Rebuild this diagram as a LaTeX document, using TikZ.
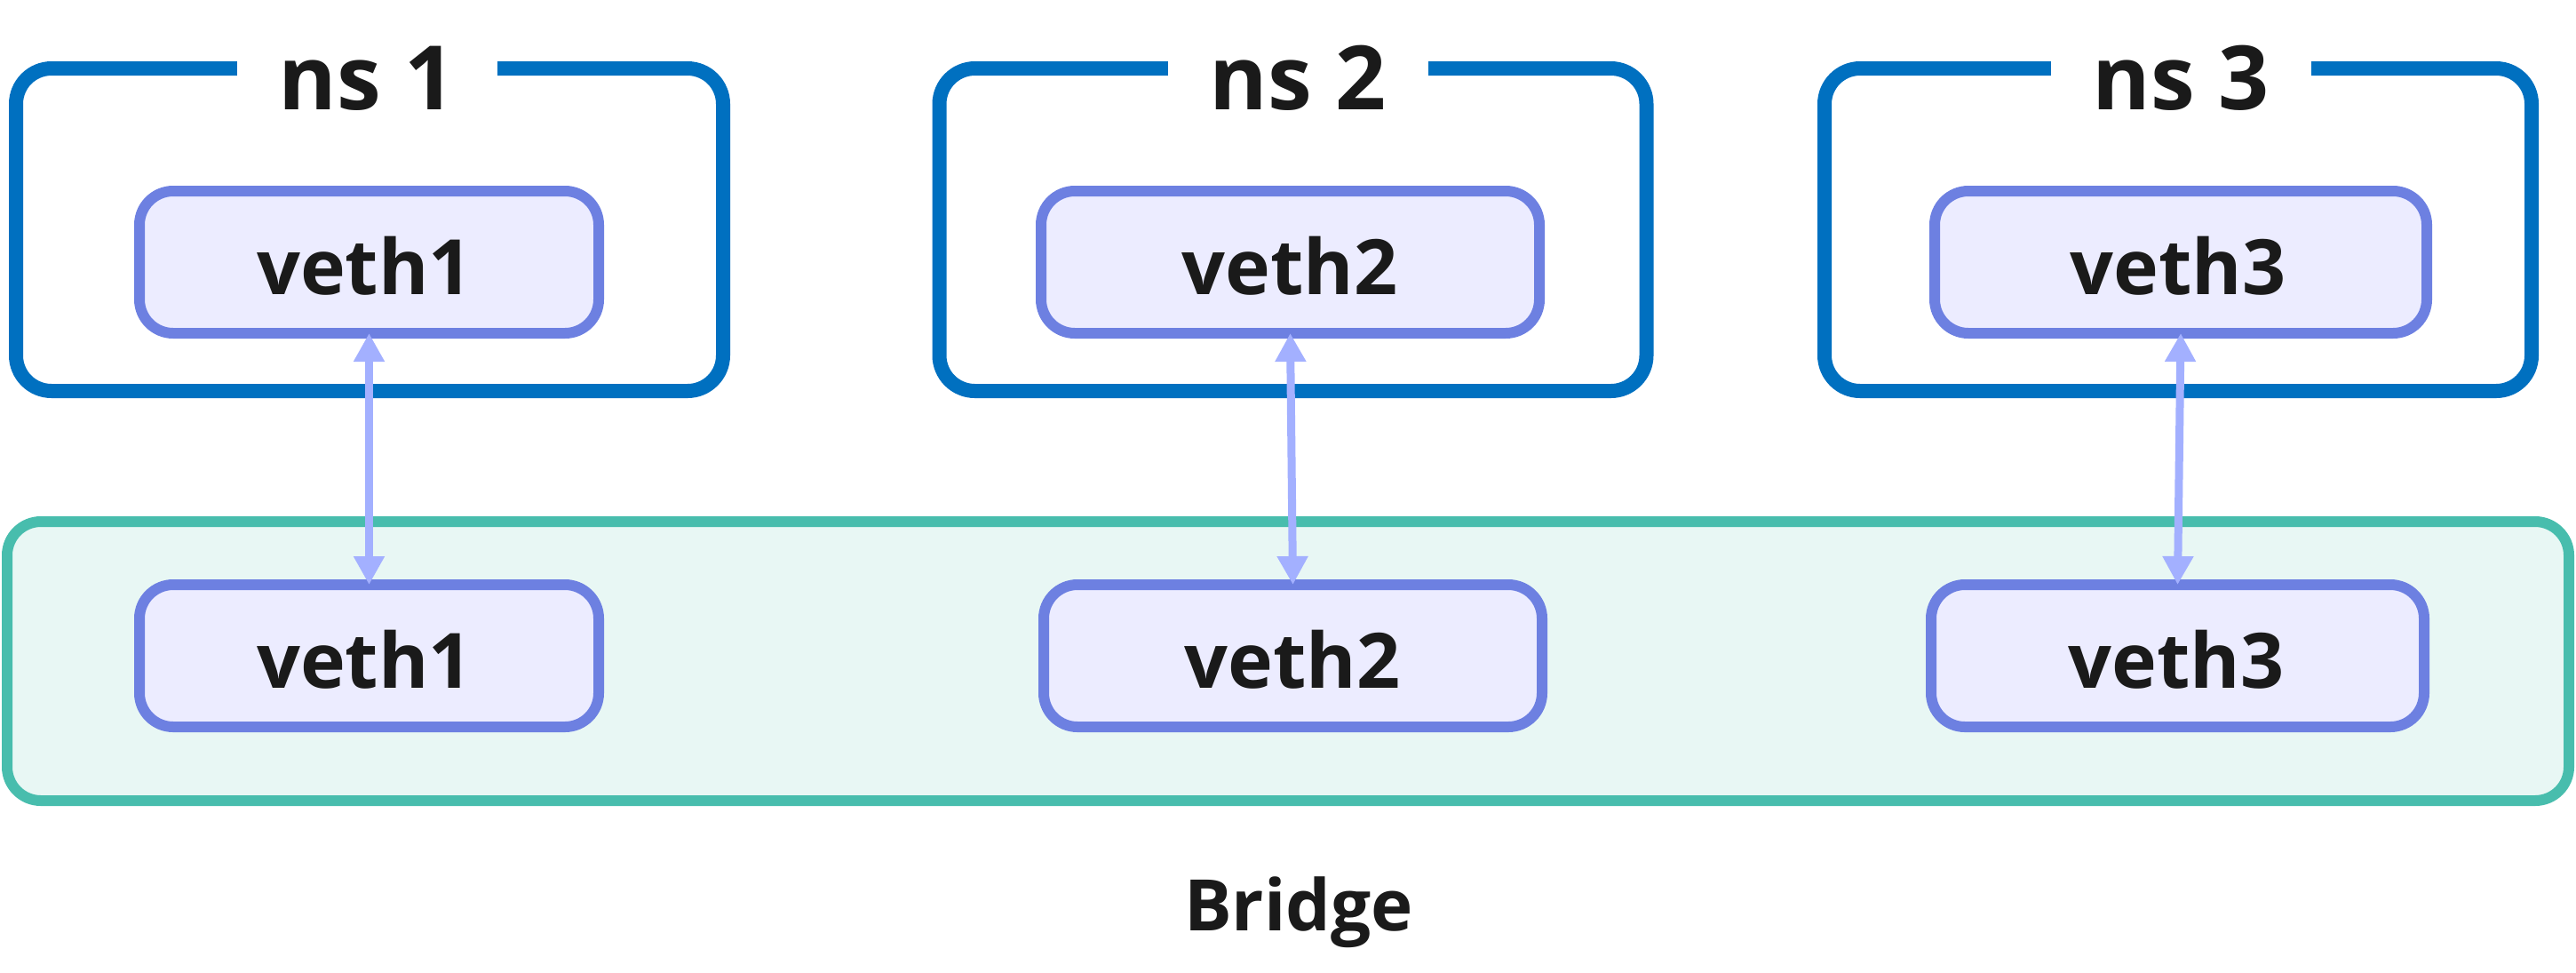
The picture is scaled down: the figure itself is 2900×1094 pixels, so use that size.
\documentclass[tikz,border=0pt]{standalone}
\usepackage{fontspec}
\setmainfont{Open Sans}
\usetikzlibrary{arrows.meta}
\definecolor{nsblue}{HTML}{0070C0}
\definecolor{vethline}{HTML}{6D80E1}
\definecolor{vethfill}{HTML}{ECECFF}
\definecolor{brline}{HTML}{48BDAD}
\definecolor{brfill}{HTML}{E8F7F4}
\definecolor{linkcol}{HTML}{A3B0FF}
\definecolor{txt}{HTML}{1A1A1A}
\tikzset{
  nsbox/.style={draw=nsblue, line width=4pt, rounded corners=10pt, minimum width=199pt, minimum height=90.75pt, inner sep=0pt, outer sep=0pt},
  nstitle/.style={fill=white, anchor=base, minimum width=73.25pt, inner sep=2pt, text=txt, font=\fontsize{25pt}{30pt}\selectfont\bfseries},
  vethbox/.style={draw=vethline, fill=vethfill, line width=3pt, rounded corners=9.5pt, minimum height=40pt, inner sep=0pt, outer sep=0pt},
  vethtext/.style={anchor=base, inner sep=0pt, text=txt, font=\fontsize{21.5pt}{26pt}\selectfont\bfseries},
  bridgebox/.style={draw=brline, fill=brfill, line width=3pt, rounded corners=9.5pt, minimum width=721pt, minimum height=78.5pt, inner sep=0pt, outer sep=0pt},
  bridgetext/.style={anchor=base, inner sep=0pt, text=txt, font=\fontsize{20pt}{24pt}\selectfont\bfseries},
  link/.style={draw=linkcol, line width=2.25pt, {Triangle[length=8pt,width=8.25pt]}-{Triangle[length=8pt,width=8.25pt]}}
}
\begin{document}
\begin{tikzpicture}[x=0.25pt,y=-0.25pt]
\useasboundingbox (0,0) rectangle (2900,1094);
% bridge
\node[bridgebox] (br) at (1450,744) {};
\node[bridgetext] (brl) at (1462,1047) {Bridge};
% namespaces
\node[nsbox] (ns1) at (416,258.5) {};
\node[nsbox] (ns2) at (1455.5,258.5) {};
\node[nsbox] (ns3) at (2452,258.5) {};
\node[nstitle] (t1) at (413,123) {ns 1};
\node[nstitle] (t2) at (1461,123) {ns 2};
\node[nstitle] (t3) at (2455,123) {ns 3};
% veth in namespaces
\node[vethbox, minimum width=129.25pt] (a1) at (415.5,295) {};
\node[vethbox, minimum width=140.25pt] (a2) at (1452.5,295) {};
\node[vethbox, minimum width=138.5pt] (a3) at (2455,295) {};
\node[vethtext] (a1l) at (410.5,331) {veth1};
\node[vethtext] (a2l) at (1452,331) {veth2};
\node[vethtext] (a3l) at (2452,331) {veth3};
% veth on bridge
\node[vethbox, minimum width=129.25pt] (b1) at (415.5,738) {};
\node[vethbox, minimum width=140.25pt] (b2) at (1455.5,738) {};
\node[vethbox, minimum width=138.75pt] (b3) at (2451.5,738) {};
\node[vethtext] (b1l) at (410.5,774) {veth1};
\node[vethtext] (b2l) at (1455,774) {veth2};
\node[vethtext] (b3l) at (2450,774) {veth3};
% links
\draw[link] (a1.south) -- (b1.north);
\draw[link] (a2.south) -- (b2.north);
\draw[link] (a3.south) -- (b3.north);
\end{tikzpicture}
\end{document}
